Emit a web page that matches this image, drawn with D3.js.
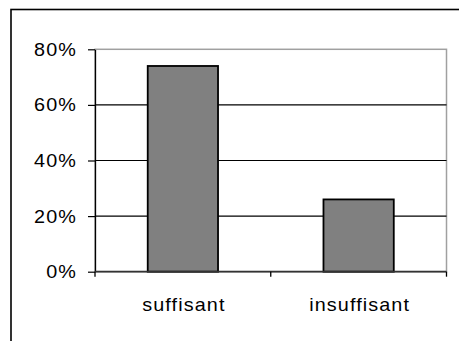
<!DOCTYPE html>
<html>
<head>
<meta charset="utf-8">
<script src="https://cdn.jsdelivr.net/npm/d3@7"></script>
<style>
  html, body { margin: 0; padding: 0; background: #fff; }
  svg { display: block; }
  text { font-family: "Liberation Sans", Arial, sans-serif; font-size: 18px; fill: #000; }
</style>
</head>
<body>
<script>
// Share of answers per category
const categories = ["suffisant", "insuffisant"];
const values = [0.74, 0.26];
const yTicks = [0, 0.2, 0.4, 0.6, 0.8];

const W = 459, H = 341;
const plot = { left: 95, right: 446.5, top: 49.3, bottom: 271.7 };

const svg = d3.select("body").append("svg")
  .attr("width", W).attr("height", H);

// Outer chart frame (continues past the right and bottom edges)
svg.append("rect")
  .attr("x", 11).attr("y", 9.5)
  .attr("width", W + 20).attr("height", H + 20)
  .attr("fill", "#fff").attr("stroke", "#000").attr("stroke-width", 1.6);

const x = d3.scaleBand().domain(categories)
  .range([plot.left, plot.right]).paddingInner(0.6).paddingOuter(0.3);
const y = d3.scaleLinear().domain([0, 0.8]).range([plot.bottom, plot.top]);

// Plot area border (grey)
svg.append("rect")
  .attr("x", plot.left).attr("y", plot.top)
  .attr("width", plot.right - plot.left).attr("height", plot.bottom - plot.top)
  .attr("fill", "none").attr("stroke", "#a0a0a0").attr("stroke-width", 1.5);

// Horizontal gridlines
svg.append("g").selectAll("line")
  .data(yTicks.filter(t => t > 0 && t < 0.8))
  .join("line")
  .attr("x1", plot.left).attr("x2", plot.right)
  .attr("y1", d => y(d)).attr("y2", d => y(d))
  .attr("stroke", "#000").attr("stroke-width", 1.2);

// Y axis
const yAxis = svg.append("g")
  .attr("transform", `translate(${plot.left},0)`)
  .call(d3.axisLeft(y).tickValues(yTicks).tickSize(7).tickSizeOuter(0)
    .tickFormat(d3.format(".0%")));
yAxis.select(".domain").attr("stroke", "#000").attr("stroke-width", 1.3);
yAxis.selectAll(".tick line").attr("stroke", "#000").attr("stroke-width", 1.2);
yAxis.selectAll(".tick text")
  .attr("x", null).attr("dy", null)
  .attr("text-anchor", "end")
  .attr("font-family", null).attr("font-size", null)
  .style("letter-spacing", "1px")
  .attr("transform", "translate(-18,6) scale(1.1,1)");

// Bars
svg.append("g").selectAll("rect")
  .data(categories)
  .join("rect")
  .attr("x", d => x(d))
  .attr("width", x.bandwidth())
  .attr("y", (d, i) => y(values[i]))
  .attr("height", (d, i) => y(0) - y(values[i]))
  .attr("fill", "#808080").attr("stroke", "#000").attr("stroke-width", 1.8);

// X axis baseline and category separators
svg.append("line")
  .attr("x1", plot.left).attr("x2", plot.right)
  .attr("y1", plot.bottom).attr("y2", plot.bottom)
  .attr("stroke", "#333").attr("stroke-width", 1.8);
const step = x.step();
const sep = [plot.left, plot.left + (plot.right - plot.left) / 2, plot.right];
svg.append("g").selectAll("line")
  .data(sep).join("line")
  .attr("x1", d => d).attr("x2", d => d)
  .attr("y1", plot.bottom).attr("y2", plot.bottom + 5)
  .attr("stroke", "#000").attr("stroke-width", 1.3);

// Category labels
svg.append("g").selectAll("text")
  .data(categories).join("text")
  .attr("text-anchor", "middle")
  .style("letter-spacing", "1px")
  .attr("transform", d => `translate(${x(d) + x.bandwidth() / 2 + 1},311) scale(1.1,1)`)
  .text(d => d);
</script>
</body>
</html>
